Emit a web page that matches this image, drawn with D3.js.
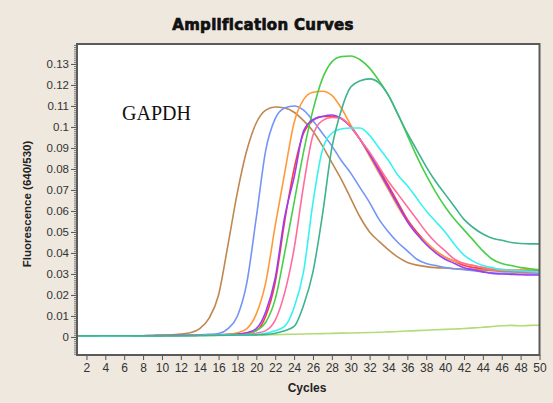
<!DOCTYPE html>
<html>
<head>
<meta charset="utf-8">
<script src="https://cdn.jsdelivr.net/npm/d3@7"></script>
<style>
  body { margin: 0; background: #eee8df; }
  svg { display: block; }
</style>
</head>
<body>
<div id="chart"></div>
<script>
const width = 553;
const height = 403;

// cycles 1..50
const cycles = [
  1, 2, 3, 4, 5, 6, 7, 8, 9, 10, 11, 12, 13, 14, 15, 16, 17, 18, 19, 20,
  21, 22, 23, 24, 25, 26, 27, 28, 29, 30, 31, 32, 33, 34, 35, 36, 37, 38, 39, 40,
  41, 42, 43, 44, 45, 46, 47, 48, 49, 50
];

const xTickLabels = [2, 4, 6, 8, 10, 12, 14, 16, 18, 20, 22, 24, 26, 28, 30, 32, 34, 36, 38, 40, 42, 44, 46, 48, 50];
const yTickLabels = [0, 0.01, 0.02, 0.03, 0.04, 0.05, 0.06, 0.07, 0.08, 0.09, 0.1, 0.11, 0.12, 0.13];

const limeValues = [
  0.0004, 0.0004, 0.0004, 0.0004, 0.0004, 0.0004, 0.0004, 0.0004, 0.0005, 0.0005,
  0.0005, 0.0005, 0.0006, 0.0006, 0.0007, 0.0007, 0.0008, 0.0008, 0.0009, 0.0010,
  0.0010, 0.0011, 0.0012, 0.0013, 0.0014, 0.0015, 0.0016, 0.0017, 0.0018, 0.0019,
  0.0020, 0.0021, 0.0022, 0.0024, 0.0026, 0.0028, 0.0030, 0.0032, 0.0034, 0.0036,
  0.0038, 0.0040, 0.0043, 0.0046, 0.0050, 0.0053, 0.0055, 0.0053, 0.0055, 0.0056
];
const redValues = [
  0.0004, 0.0004, 0.0004, 0.0004, 0.0005, 0.0005, 0.0005, 0.0006, 0.0006, 0.0007,
  0.0007, 0.0008, 0.0008, 0.0009, 0.0009, 0.0010, 0.0011, 0.0013, 0.0018, 0.0030,
  0.0100, 0.0260, 0.0550, 0.0800, 0.0970, 0.1030, 0.1050, 0.1050, 0.1040, 0.1000,
  0.0940, 0.0870, 0.0800, 0.0720, 0.0640, 0.0560, 0.0500, 0.0450, 0.0410, 0.0380,
  0.0360, 0.0340, 0.0330, 0.0325, 0.0320, 0.0318, 0.0316, 0.0315, 0.0315, 0.0315
];
const brownValues = [
  0.0004, 0.0004, 0.0004, 0.0005, 0.0005, 0.0005, 0.0006, 0.0006, 0.0007, 0.0008,
  0.0010, 0.0014, 0.0020, 0.0040, 0.0090, 0.0200, 0.0440, 0.0690, 0.0890, 0.1020,
  0.1080, 0.1095, 0.1090, 0.1070, 0.1030, 0.0980, 0.0910, 0.0830, 0.0750, 0.0660,
  0.0570, 0.0500, 0.0455, 0.0415, 0.0380, 0.0355, 0.0342, 0.0335, 0.0330, 0.0328,
  0.0325, 0.0322, 0.0320, 0.0318, 0.0315, 0.0312, 0.0310, 0.0308, 0.0306, 0.0305
];
const blueValues = [
  0.0004, 0.0004, 0.0005, 0.0005, 0.0005, 0.0005, 0.0006, 0.0006, 0.0006, 0.0007,
  0.0007, 0.0008, 0.0009, 0.0010, 0.0012, 0.0016, 0.0040, 0.0100, 0.0260, 0.0570,
  0.0890, 0.1040, 0.1090, 0.1100, 0.1080, 0.1030, 0.0970, 0.0910, 0.0840, 0.0780,
  0.0710, 0.0640, 0.0560, 0.0500, 0.0450, 0.0410, 0.0370, 0.0350, 0.0340, 0.0330,
  0.0325, 0.0320, 0.0315, 0.0310, 0.0305, 0.0303, 0.0302, 0.0300, 0.0300, 0.0300
];
const orangeValues = [
  0.0004, 0.0004, 0.0004, 0.0005, 0.0005, 0.0005, 0.0005, 0.0006, 0.0006, 0.0006,
  0.0007, 0.0007, 0.0008, 0.0008, 0.0009, 0.0010, 0.0012, 0.0020, 0.0040, 0.0110,
  0.0260, 0.0530, 0.0780, 0.1020, 0.1130, 0.1165, 0.1170, 0.1150, 0.1090, 0.1010,
  0.0940, 0.0860, 0.0780, 0.0700, 0.0620, 0.0550, 0.0490, 0.0450, 0.0410, 0.0380,
  0.0360, 0.0350, 0.0340, 0.0330, 0.0325, 0.0322, 0.0320, 0.0320, 0.0320, 0.0320
];
const purpleValues = [
  0.0004, 0.0004, 0.0004, 0.0004, 0.0005, 0.0005, 0.0005, 0.0006, 0.0007, 0.0007,
  0.0007, 0.0008, 0.0008, 0.0009, 0.0009, 0.0010, 0.0011, 0.0013, 0.0020, 0.0040,
  0.0120, 0.0280, 0.0570, 0.0760, 0.0980, 0.1035, 0.1050, 0.1057, 0.1040, 0.1000,
  0.0940, 0.0870, 0.0790, 0.0710, 0.0630, 0.0550, 0.0490, 0.0440, 0.0400, 0.0370,
  0.0350, 0.0330, 0.0320, 0.0310, 0.0302, 0.0300, 0.0298, 0.0296, 0.0295, 0.0295
];
const pinkValues = [
  0.0006, 0.0006, 0.0005, 0.0005, 0.0005, 0.0005, 0.0005, 0.0005, 0.0005, 0.0006,
  0.0006, 0.0007, 0.0007, 0.0008, 0.0008, 0.0009, 0.0009, 0.0010, 0.0012, 0.0018,
  0.0030, 0.0080, 0.0210, 0.0420, 0.0720, 0.0960, 0.1030, 0.1045, 0.1040, 0.1000,
  0.0940, 0.0880, 0.0810, 0.0740, 0.0680, 0.0620, 0.0560, 0.0500, 0.0450, 0.0410,
  0.0370, 0.0350, 0.0340, 0.0330, 0.0320, 0.0318, 0.0315, 0.0312, 0.0310, 0.0310
];
const greenValues = [
  0.0005, 0.0005, 0.0006, 0.0006, 0.0005, 0.0005, 0.0005, 0.0005, 0.0006, 0.0006,
  0.0007, 0.0007, 0.0008, 0.0008, 0.0009, 0.0009, 0.0010, 0.0012, 0.0016, 0.0030,
  0.0070, 0.0180, 0.0400, 0.0640, 0.0880, 0.1080, 0.1230, 0.1310, 0.1335, 0.1338,
  0.1320, 0.1280, 0.1220, 0.1150, 0.1060, 0.0960, 0.0860, 0.0770, 0.0690, 0.0620,
  0.0560, 0.0510, 0.0460, 0.0410, 0.0370, 0.0350, 0.0340, 0.0330, 0.0325, 0.0320
];
const cyanValues = [
  0.0004, 0.0004, 0.0004, 0.0004, 0.0005, 0.0005, 0.0005, 0.0005, 0.0005, 0.0006,
  0.0006, 0.0006, 0.0007, 0.0007, 0.0008, 0.0008, 0.0009, 0.0009, 0.0010, 0.0012,
  0.0018, 0.0030, 0.0050, 0.0140, 0.0310, 0.0640, 0.0890, 0.0970, 0.0990, 0.0995,
  0.0995, 0.0960, 0.0900, 0.0840, 0.0770, 0.0720, 0.0660, 0.0600, 0.0550, 0.0500,
  0.0440, 0.0390, 0.0360, 0.0340, 0.0330, 0.0320, 0.0318, 0.0315, 0.0312, 0.0310
];
const tealValues = [
  0.0005, 0.0005, 0.0005, 0.0006, 0.0006, 0.0006, 0.0005, 0.0005, 0.0005, 0.0005,
  0.0006, 0.0006, 0.0006, 0.0007, 0.0007, 0.0008, 0.0008, 0.0009, 0.0009, 0.0010,
  0.0012, 0.0018, 0.0030, 0.0050, 0.0150, 0.0310, 0.0580, 0.0900, 0.1080, 0.1190,
  0.1220, 0.1229, 0.1210, 0.1150, 0.1060, 0.0970, 0.0890, 0.0810, 0.0740, 0.0680,
  0.0620, 0.0560, 0.0520, 0.0490, 0.0470, 0.0460, 0.0450, 0.0445, 0.0443, 0.0443
];

// draw order, bottom first
const series = [
  { values: limeValues, color: "#b3db78" },
  { values: redValues, color: "#ff3a3a" },
  { values: brownValues, color: "#c0874f" },
  { values: blueValues, color: "#7395f5" },
  { values: orangeValues, color: "#ff9a3a" },
  { values: greenValues, color: "#48cf48" },
  { values: purpleValues, color: "#9b3cf7" },
  { values: pinkValues, color: "#ff6d9e" },
  { values: cyanValues, color: "#38f2f2" },
  { values: tealValues, color: "#3db38e" }
];

const margin = { left: 77, right: 13.5, top: 44, bottom: 48 };

const x = d3.scaleLinear()
  .domain([1, 50])
  .range([margin.left, width - margin.right]);

const y = d3.scaleLinear()
  .domain([-0.0086, 0.1395])
  .range([height - margin.bottom, margin.top]);

const svg = d3.select("#chart")
  .append("svg")
  .attr("width", width)
  .attr("height", height);

svg.append("rect")
  .attr("width", width)
  .attr("height", height)
  .attr("fill", "#eee8df");

// plot area
svg.append("rect")
  .attr("x", x.range()[0])
  .attr("y", y.range()[1])
  .attr("width", x.range()[1] - x.range()[0])
  .attr("height", y.range()[0] - y.range()[1])
  .attr("fill", "#ffffff");

// title
svg.append("text")
  .attr("x", 263)
  .attr("y", 30)
  .attr("text-anchor", "middle")
  .attr("font-family", "DejaVu Sans")
  .attr("font-weight", "bold")
  .attr("font-size", 15)
  .attr("letter-spacing", 0.3)
  .attr("fill", "#111")
  .attr("stroke", "#111")
  .attr("stroke-width", 0.7)
  .text("Amplification Curves");

// GAPDH label
svg.append("text")
  .attr("x", 122)
  .attr("y", 119.5)
  .attr("font-family", "Liberation Serif")
  .attr("font-size", 20)
  .attr("fill", "#111")
  .text("GAPDH");

const line = d3.line()
  .x((d, i) => x(cycles[i]))
  .y((d) => y(d))
  .curve(d3.curveMonotoneX);

svg.append("clipPath").attr("id", "plotclip")
  .append("rect")
  .attr("x", x.range()[0])
  .attr("y", y.range()[1])
  .attr("width", x.range()[1] - x.range()[0])
  .attr("height", y.range()[0] - y.range()[1]);

svg.append("g")
  .attr("clip-path", "url(#plotclip)")
  .selectAll("path")
  .data(series)
  .join("path")
  .attr("fill", "none")
  .attr("stroke", (d) => d.color)
  .attr("stroke-width", 1.6)
  .attr("stroke-linejoin", "round")
  .attr("d", (d) => line(d.values));

// y axis, minor then major
const yMinor = d3.range(-8, 140).map((d) => d / 1000);
svg.append("g")
  .attr("transform", `translate(${margin.left},0)`)
  .call(d3.axisLeft(y).tickValues(yMinor).tickSize(3).tickFormat(""))
  .call((g) => g.select(".domain").remove())
  .call((g) => g.selectAll("line").attr("stroke", "#777"));

svg.append("g")
  .attr("transform", `translate(${margin.left},0)`)
  .call(d3.axisLeft(y).tickValues(yTickLabels).tickSize(6).tickPadding(2)
    .tickFormat((d) => (d === 0 ? "0" : String(+d.toFixed(2)))))
  .call((g) => g.select(".domain").remove())
  .call((g) => g.selectAll("line").attr("stroke", "#555"))
  .call((g) => g.selectAll("text")
    .attr("font-family", "Liberation Sans")
    .attr("font-size", 11.5)
    .attr("fill", "#333"));

// x axis
svg.append("g")
  .attr("transform", `translate(0,${height - margin.bottom})`)
  .call(d3.axisBottom(x).tickValues(xTickLabels).tickSize(5).tickPadding(3))
  .call((g) => g.select(".domain").remove())
  .call((g) => g.selectAll("line").attr("stroke", "#555"))
  .call((g) => g.selectAll("text")
    .attr("font-family", "Liberation Sans")
    .attr("font-size", 12)
    .attr("fill", "#333"));

// frame
svg.append("rect")
  .attr("x", x.range()[0])
  .attr("y", y.range()[1])
  .attr("width", x.range()[1] - x.range()[0])
  .attr("height", y.range()[0] - y.range()[1])
  .attr("fill", "none")
  .attr("stroke", "#5a5a5a")
  .attr("stroke-width", 2);

// axis titles
svg.append("text")
  .attr("transform", "translate(31,204) rotate(-90)")
  .attr("text-anchor", "middle")
  .attr("font-family", "Liberation Sans")
  .attr("font-weight", "bold")
  .attr("font-size", 11.5)
  .attr("fill", "#222")
  .text("Fluorescence (640/530)");

svg.append("text")
  .attr("x", 307)
  .attr("y", 392)
  .attr("text-anchor", "middle")
  .attr("font-family", "Liberation Sans")
  .attr("font-weight", "bold")
  .attr("font-size", 12)
  .attr("fill", "#222")
  .text("Cycles");
</script>
</body>
</html>
